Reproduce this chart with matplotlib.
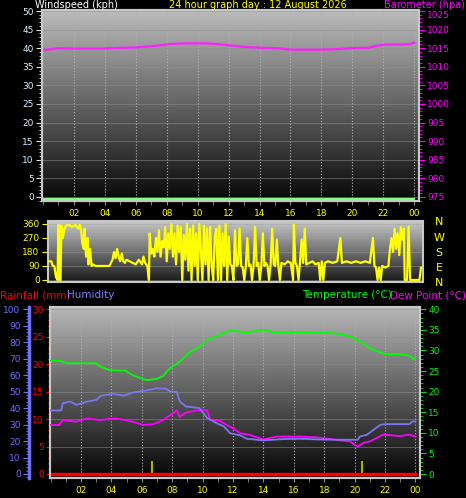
import numpy as np
import matplotlib.pyplot as plt
from matplotlib.ticker import MultipleLocator
import matplotlib.transforms as mtransforms

# ---- top panel: barometer (hPa) and windspeed (kph) ----
baro_h = [0.0, 0.3, 1.0, 2.0, 3.0, 3.8, 5.0, 5.9, 6.7, 7.4, 8.0, 8.5, 9.2, 9.8, 10.5, 11.3,
          12.0, 12.4, 13.2, 14.1, 15.2, 16.0, 17.0, 17.9, 18.8, 19.9, 21.0, 21.6, 22.2, 23.1, 23.7, 24.0]
baro = [1014.5, 1014.6, 1015.0, 1014.9, 1014.9, 1014.9, 1015.1, 1015.2, 1015.4, 1015.7, 1016.0, 1016.2,
        1016.3, 1016.3, 1016.3, 1016.1, 1015.8, 1015.6, 1015.3, 1015.1, 1015.0, 1014.6, 1014.6, 1014.6,
        1014.7, 1015.0, 1015.1, 1015.7, 1016.0, 1016.0, 1016.1, 1016.5]
wind_h = [0.0, 24.0]
wind_kph = [0.0, 0.0]

# ---- middle panel: wind direction (deg) ----
dir_h = [0.0, 0.15, 0.25, 0.35, 0.45, 0.55, 0.62, 0.68, 0.75, 0.8, 0.9, 1.0, 1.1, 1.3, 1.5, 1.7, 1.9, 2.0,
         2.1, 2.15, 2.25, 2.3, 2.4, 2.5, 2.55, 2.65, 2.75, 2.85, 3.0, 3.3, 3.6, 3.9, 4.0, 4.1, 4.2, 4.3,
         4.4, 4.5, 4.6, 4.7, 4.8, 4.9, 5.0, 5.2, 5.4, 5.6, 5.8, 6.0, 6.1, 6.2, 6.35, 6.45, 6.5, 6.6, 6.7,
         6.8, 6.9, 7.0, 7.1, 7.2, 7.3, 7.4, 7.5, 7.6, 7.7, 7.8, 7.9, 8.0, 8.1, 8.2, 8.3, 8.4, 8.5, 8.6,
         8.7, 8.8, 8.9, 9.0, 9.1, 9.2, 9.3, 9.4, 9.5, 9.6, 9.7, 9.8, 9.9, 10.0, 10.1, 10.2, 10.3, 10.4,
         10.5, 10.6, 10.7, 10.8, 10.9, 11.0, 11.1, 11.2, 11.3, 11.4, 11.5, 11.6, 11.7, 11.8, 11.9, 12.0,
         12.1, 12.2, 12.3, 12.4, 12.5, 12.6, 12.7, 12.8, 12.9, 13.0, 13.1, 13.2, 13.3, 13.4, 13.5, 13.6,
         13.7, 13.8, 13.9, 14.0, 14.1, 14.2, 14.3, 14.4, 14.5, 14.6, 14.7, 14.8, 14.9, 15.0, 15.2, 15.4,
         15.6, 15.75, 15.8, 15.9, 16.0, 16.1, 16.2, 16.3, 16.4, 16.5, 16.6, 16.8, 17.0, 17.2, 17.4, 17.5,
         17.6, 17.7, 17.8, 18.0, 18.3, 18.6, 18.8, 18.9, 19.2, 19.5, 19.8, 20.1, 20.4, 20.7, 20.9, 21.0,
         21.1, 21.2, 21.3, 21.4, 21.5, 21.7, 21.9, 22.0, 22.1, 22.2, 22.3, 22.4, 22.5, 22.6, 22.7, 22.8,
         22.9, 22.95, 23.1, 23.2, 23.3, 23.6, 23.9, 24.0]
dir_deg = [120, 120, 90, 90, 20, 0, 355, 0, 0, 350, 270, 330, 350, 355, 340, 355, 330, 355,
           300, 240, 200, 330, 150, 270, 100, 200, 90, 100, 90, 90, 90, 90, 110, 130, 180, 140,
           200, 150, 120, 170, 120, 110, 130, 120, 110, 100, 130, 100, 150, 110, 90, 0, 300, 170, 200,
           150, 270, 180, 320, 150, 250, 210, 340, 120, 300, 200, 360, 150, 300, 100, 350, 180, 340, 0,
           290, 130, 360, 60, 330, 0, 350, 90, 300, 0, 360, 200, 0, 350, 100, 330, 0, 340,
           90, 0, 280, 330, 0, 350, 0, 300, 90, 360, 0, 280, 100, 90, 0, 320,
           90, 100, 330, 90, 80, 0, 90, 270, 90, 100, 0, 90, 340, 90, 110, 0,
           90, 300, 90, 110, 90, 0, 100, 330, 100, 90, 260, 90, 0, 110, 100, 120,
           110, 0, 355, 110, 90, 0, 120, 260, 110, 330, 100, 110, 120, 100, 110, 0,
           120, 0, 110, 120, 110, 120, 270, 110, 120, 110, 120, 110, 120, 110, 270, 90,
           80, 0, 80, 0, 90, 80, 90, 200, 270, 180, 330, 200, 300, 160, 340, 260,
           330, 0, 0, 345, 0, 0, 0, 80]

# ---- bottom panel: temperature, dew point (degC), humidity (%), rainfall (mm) ----
temp_h = [0.0, 0.6, 1.05, 2.0, 3.0, 3.2, 3.9, 4.9, 5.4, 6.3, 7.0, 7.4, 7.85, 8.5, 9.2, 9.8, 10.3,
          10.9, 11.6, 12.0, 12.9, 13.8, 14.2, 14.6, 15.5, 16.4, 17.5, 18.2, 19.0, 19.7, 20.4, 21.0,
          21.7, 22.1, 23.0, 23.6, 24.0]
temp = [27.5, 27.5, 26.9, 26.9, 26.9, 26.2, 25.2, 25.1, 24.0, 22.8, 23.1, 23.8, 25.7, 27.3, 29.7, 30.9,
        32.6, 33.4, 34.6, 34.8, 34.3, 35.0, 35.0, 34.5, 34.3, 34.5, 34.2, 34.3, 34.0, 33.4, 32.1, 30.5,
        29.5, 29.1, 29.1, 28.7, 27.7]
hum_h = [0.0, 0.7, 0.8, 1.3, 1.7, 2.4, 3.0, 3.3, 4.1, 4.8, 5.4, 6.3, 7.0, 7.6, 7.85, 8.3, 8.5, 8.9,
         9.8, 10.3, 10.9, 11.4, 11.8, 12.5, 12.9, 14.0, 15.3, 16.4, 17.5, 18.6, 20.2, 20.35, 20.8,
         21.7, 22.1, 23.6, 23.8, 24.0]
hum = [38.6, 38.6, 43.0, 44.0, 42.0, 44.0, 45.0, 47.5, 48.7, 47.5, 49.5, 50.7, 52.1, 51.7, 50.1, 49.7,
       44.0, 41.0, 40.0, 34.0, 30.9, 28.9, 24.8, 23.4, 21.4, 20.4, 21.2, 21.4, 21.0, 20.8, 20.8, 22.8,
       23.8, 29.9, 30.3, 30.3, 31.9, 31.9]
dew_h = [0.0, 0.55, 0.83, 1.7, 2.4, 3.2, 4.3, 5.4, 6.1, 6.75, 7.4, 8.1, 8.3, 8.5, 8.9, 9.6, 10.3,
         10.5, 11.1, 11.6, 12.0, 12.5, 13.1, 14.0, 14.9, 16.4, 17.5, 18.6, 19.7, 20.2, 20.6, 21.0,
         21.9, 23.0, 23.6, 24.0]
dew = [11.9, 11.9, 13.1, 12.7, 13.5, 13.1, 13.5, 12.7, 11.9, 12.1, 13.1, 14.9, 15.5, 13.9, 14.9, 15.4,
       15.5, 13.1, 13.0, 11.9, 11.1, 9.9, 9.5, 8.4, 9.1, 9.1, 8.9, 8.4, 7.9, 6.6, 7.6, 7.9,
       9.6, 9.2, 9.6, 9.1]
rain_h = [0.0, 24.0]
rain_mm = [0.0, 0.0]
mark_h = [6.65, 20.5]
mark_val = [2.3, 2.3]

hours = list(range(2, 25, 2))
hour_lbl = ['%02d' % (h % 24) for h in hours]

W, H = 466, 498


def box(l, t, r, b):
    return [l / W, 1 - b / H, (r - l) / W, (b - t) / H]


def shade(ax, top, bottom):
    g = np.linspace(top, bottom, 256).reshape(-1, 1)
    ax.imshow(g, cmap='gray', vmin=0, vmax=1, aspect='auto', extent=(0, 1, 0, 1),
              transform=ax.transAxes, zorder=0, interpolation='bilinear')


def frame(ax):
    for s in ax.spines.values():
        s.set_color('#c8c8c8')
        s.set_linewidth(1.5)


fig = plt.figure(figsize=(4.66, 4.98), dpi=100, facecolor='black')
fs = 6.5
tfs = 7

# ============ top panel ============
ax1 = fig.add_axes(box(42, 10, 419, 201))
shade(ax1, 0.74, 0.03)
ax1.set_xlim(-0.05, 24.3)
ax1.set_ylim(-1.08, 50.27)
ax1.set_yticks(range(0, 51, 5))
ax1.yaxis.set_minor_locator(MultipleLocator(1))
ax1.set_xticks(hours)
ax1.set_xticklabels(hour_lbl)
ax1.xaxis.set_minor_locator(MultipleLocator(1))
ax1.tick_params(axis='y', which='both', colors='#e0e0e0', labelcolor='#d8f0ff', labelsize=fs, pad=2)
ax1.tick_params(axis='y', which='major', length=4)
ax1.tick_params(axis='y', which='minor', length=2)
ax1.tick_params(axis='x', which='both', colors='#909090', labelcolor='#ffff00', labelsize=fs, length=3, pad=3)
ax1.grid(axis='x', color='#b0b0b0', ls=':', lw=0.8)
ax1.grid(axis='y', color='#909090', lw=0.6, alpha=0.6)
frame(ax1)
off = mtransforms.offset_copy(ax1.transData, fig=fig, y=-2, units='dots')
ax1.plot(wind_h, wind_kph, color='#80ff80', lw=1.5, transform=off, zorder=3)

bax = ax1.twinx()
bax.set_ylim(973.92, 1025.27)
bax.set_yticks(range(975, 1026, 5))
bax.yaxis.set_minor_locator(MultipleLocator(1))
bax.tick_params(axis='y', which='both', colors='#ff00ff', labelcolor='#ff00ff', labelsize=fs, pad=2)
bax.tick_params(axis='y', which='major', length=4)
bax.tick_params(axis='y', which='minor', length=2)
# top label hangs below its tick so it clears the header text
bax.yaxis.get_major_ticks()[-1].label2.set_va('top')
frame(bax)
bax.plot(baro_h, baro, color='#ff20ff', lw=1.6)

fig.text(35 / W, 1, 'Windspeed (kph)', color='white', fontsize=tfs, va='top', ha='left')
fig.text(258 / W, 1, '24 hour graph day : 12 August 2026', color='#ffff00', fontsize=tfs,
         va='top', ha='center')
fig.text(465 / W, 1, 'Barometer (hpa)', color='#ff00ff', fontsize=tfs, va='top', ha='right')

# ============ wind direction panel ============
ax2 = fig.add_axes(box(48, 221, 423, 282))
shade(ax2, 0.78, 0.10)
ax2.set_xlim(-0.06, 24.13)
ax2.set_ylim(-12.9, 379)
ax2.set_yticks([0, 90, 180, 270, 360])
ax2.set_xticks([])
ax2.tick_params(axis='y', colors='#ffff00', labelcolor='#ffff00', labelsize=fs, length=4, pad=2)
ax2.grid(axis='y', color='#a0a0a0', lw=0.6, alpha=0.5)
frame(ax2)
ax2.plot(dir_h, dir_deg, color='#ffff00', lw=1.6, zorder=3)
for lbl, yy in zip(['N', 'W', 'S', 'E', 'N'], [222, 238, 253, 268, 283]):
    fig.text(439 / W, 1 - yy / H, lbl, color='#ffff00', fontsize=8, ha='center', va='center')

# ============ bottom panel ============
ax3 = fig.add_axes(box(50, 307, 420, 478))
shade(ax3, 0.72, 0.02)
ax3.set_xlim(-0.04, 24.3)
ax3.set_ylim(-0.73, 30.42)
ax3.set_yticks(range(0, 31, 5))
ax3.yaxis.set_minor_locator(MultipleLocator(1))
ax3.set_xticks(hours)
ax3.set_xticklabels(hour_lbl)
ax3.xaxis.set_minor_locator(MultipleLocator(1))
ax3.tick_params(axis='y', which='both', colors='#ff0000', labelcolor='#ff0000', labelsize=fs, pad=1.5)
ax3.tick_params(axis='y', which='major', length=3)
ax3.tick_params(axis='y', which='minor', length=1.5)
ax3.tick_params(axis='x', which='both', colors='#909090', labelcolor='#ffff00', labelsize=fs, length=3, pad=3)
ax3.grid(axis='x', color='#b0b0b0', ls=':', lw=0.8)
ax3.grid(axis='y', color='#909090', lw=0.6, alpha=0.6)
frame(ax3)
ax3.vlines(mark_h, 0, mark_val, color='#b0b000', lw=1.5, zorder=3)
ax3.plot(rain_h, rain_mm, color='#ff0000', lw=2.5, zorder=4)

tax = ax3.twinx()
tax.set_ylim(-0.97, 40.56)
tax.set_yticks(range(0, 41, 5))
tax.yaxis.set_minor_locator(MultipleLocator(1))
tax.tick_params(axis='y', which='both', colors='#00e000', labelcolor='#00ff00', labelsize=fs, pad=2)
tax.tick_params(axis='y', which='major', length=4)
tax.tick_params(axis='y', which='minor', length=2)
frame(tax)

hax = ax3.twinx()
hax.set_ylim(-2.43, 101.4)
hax.set_yticks(range(0, 101, 10))
hax.yaxis.set_minor_locator(MultipleLocator(2))
hax.yaxis.set_ticks_position('left')
hax.spines['left'].set_position(('outward', 15.1))
hax.spines['left'].set_visible(True)
for s in ['right', 'top', 'bottom']:
    hax.spines[s].set_visible(False)
hax.spines['left'].set_color('#7070ff')
hax.spines['left'].set_linewidth(2.5)
hax.tick_params(axis='y', which='both', colors='#7070ff', labelcolor='#7070ff', labelsize=fs, pad=2)
hax.tick_params(axis='y', which='major', length=4)
hax.tick_params(axis='y', which='minor', length=2)

hax.plot(hum_h, hum, color='#7878f0', lw=1.3, zorder=3)
tax.plot(dew_h, dew, color='#ff00ff', lw=1.3, zorder=3)
tax.plot(temp_h, temp, color='#00ff00', lw=1.3, zorder=3)

fig.text(0, 1 - 290 / H, 'Rainfall (mm)', color='#ff0000', fontsize=7.5, va='top', ha='left')
fig.text(67 / W, 1 - 290 / H, 'Humidity', color='#8080ff', fontsize=7.5, va='top', ha='left')
fig.text(392 / W, 1 - 290 / H, 'Temperature (\u00b0C)', color='#00ff00', fontsize=7.5, va='top', ha='right')
fig.text(466 / W, 1 - 290 / H, 'Dew Point (\u00b0C)', color='#ff00ff', fontsize=7.5, va='top', ha='right')

fig.savefig('out.png', dpi=100, facecolor='black')
